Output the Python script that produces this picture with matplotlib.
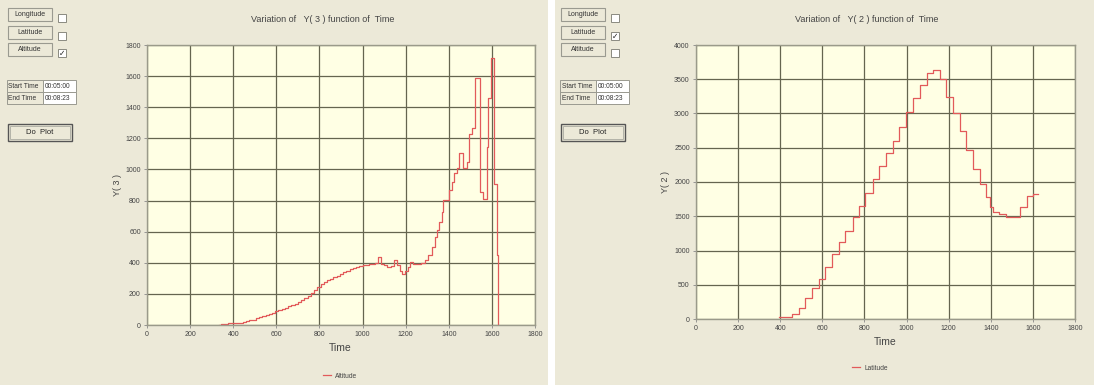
import matplotlib
matplotlib.use("Agg")
import matplotlib.pyplot as plt
from matplotlib.patches import Rectangle

plt.rcParams['font.family'] = ['Liberation Sans', 'DejaVu Sans']

# Altitude (Y(3)) vs Time - step data
alt_time = [334, 345, 360, 375, 390, 410, 430, 445, 460, 475, 490, 505, 520, 535,
            550, 565, 580, 595, 610, 625, 640, 655, 670, 685, 700, 715, 730, 745,
            760, 775, 790, 805, 820, 835, 850, 865, 880, 895, 910, 925, 940, 955,
            970, 985, 1000, 1015, 1030, 1045, 1060, 1072, 1085, 1100, 1115, 1130,
            1145, 1162, 1172, 1185, 1195, 1210, 1222, 1235, 1250, 1270, 1290, 1305,
            1320, 1335, 1345, 1356, 1367, 1375, 1402, 1413, 1424, 1440, 1449, 1465,
            1483, 1496, 1506, 1522, 1545, 1560, 1579, 1584, 1595, 1612, 1623, 1628]
alt_vals = [0, 5, 8, 12, 14, 15, 16, 20, 25, 30, 35, 42, 50, 58,
            65, 72, 80, 88, 96, 104, 112, 120, 128, 138, 148, 160, 172, 188,
            205, 225, 245, 262, 275, 288, 298, 308, 318, 328, 340, 350, 360, 368,
            375, 380, 385, 388, 392, 395, 398, 435, 395, 385, 375, 380,
            420, 385, 350, 330, 345, 375, 405, 390, 395, 400, 418, 450,
            503, 568, 610, 664, 729, 804, 868, 921, 975, 1007, 1108, 1007,
            1050, 1226, 1264, 1586, 857, 808, 1146, 1457, 1714, 906, 450, 0]

# Latitude (Y(2)) vs Time - step data
lat_time = [394, 457, 488, 520, 551, 583, 614, 646, 677, 709, 745, 776, 803, 839,
            871, 902, 934, 965, 997, 1032, 1063, 1095, 1126, 1158, 1189, 1221,
            1252, 1284, 1315, 1347, 1378, 1394, 1410, 1441, 1473, 1540, 1570,
            1600, 1625]
lat_vals = [25, 73, 161, 307, 449, 586, 756, 952, 1122, 1283, 1488, 1649, 1845, 2040,
            2230, 2430, 2601, 2796, 3016, 3221, 3416, 3587, 3636, 3500, 3245, 3011,
            2747, 2474, 2196, 1967, 1781, 1635, 1562, 1527, 1488, 1635, 1791,
            1830, 1830]

x_ticks = list(range(0, 1801, 200))
alt_ticks = list(range(0, 1801, 200))
lat_ticks = list(range(0, 4001, 500))

W, H = 1094, 385
BG = '#ece9d8'
PLOT_BG = '#ffffe4'
GRID = '#65654f'
LINE = '#e25a5a'
TXT = '#444444'

fig = plt.figure(figsize=(W / 100, H / 100), dpi=100, facecolor=BG)


def px_rect(x, y, w, h, **kw):
    # rectangle given in image pixels, origin top-left
    r = Rectangle((x / W, 1 - (y + h) / H), w / W, h / H,
                  transform=fig.transFigure, **kw)
    fig.patches.append(r)
    return r


def px_text(x, y, s, **kw):
    fig.text(x / W, 1 - y / H, s, **kw)


# white strip between the two panels
px_rect(548, 0, 7, H, facecolor='white', edgecolor='none', zorder=0)


def controls(x0, checked):
    names = ['Longitude', 'Latitude', 'Altitude']
    ys = [8, 26, 43]
    for name, y in zip(names, ys):
        px_rect(x0, y, 44, 13, facecolor=BG, edgecolor='#9a9a90', lw=0.8, zorder=1)
        px_text(x0 + 22, y + 6.5, name, fontsize=5, color='#333333',
                ha='center', va='center')
        px_rect(x0 + 50, y + 6, 8, 8, facecolor='white', edgecolor='#8a8a80',
                lw=0.7, zorder=1)
        if name == checked:
            px_text(x0 + 54, y + 10, '\u2713', fontsize=5.5, color='#222222',
                    ha='center', va='center', family=['DejaVu Sans'])
    for i, (lab, val) in enumerate([('Start Time', '00:05:00'),
                                     ('End Time', '00:08:23')]):
        y = 80 + i * 12
        px_rect(x0 - 1, y, 36, 12, facecolor=BG, edgecolor='#9a9a90', lw=0.7, zorder=1)
        px_text(x0 + 0.5, y + 6, lab, fontsize=4.8, color='#333333', va='center')
        px_rect(x0 + 35, y, 33, 12, facecolor='white', edgecolor='#9a9a90',
                lw=0.7, zorder=1)
        px_text(x0 + 36.5, y + 6, val, fontsize=4.8, color='#333333', va='center')
    px_rect(x0, 124, 64, 17, facecolor=BG, edgecolor='#555555', lw=1.0, zorder=1)
    px_rect(x0 + 2, 126, 60, 13, facecolor='none', edgecolor='#aaaaa0', lw=0.6, zorder=2)
    px_text(x0 + 32, 132.5, 'Do  Plot', fontsize=5.5, color='#222222',
            ha='center', va='center')


controls(8, 'Altitude')
controls(561, 'Latitude')


def style_axes(ax, yticks):
    ax.set_facecolor(PLOT_BG)
    ax.set_xlim(0, 1800)
    ax.set_ylim(yticks[0], yticks[-1])
    ax.set_xticks(x_ticks)
    ax.set_yticks(yticks)
    ax.grid(True, color=GRID, lw=0.9)
    ax.set_axisbelow(True)
    for s in ax.spines.values():
        s.set_color('#9a9a8a')
        s.set_linewidth(1.0)
    ax.tick_params(labelsize=5, colors='#888888', labelcolor=TXT, length=2.5,
                   width=0.6, pad=2)


# left chart: Altitude
ax1 = fig.add_axes([147 / W, 60 / H, 388 / W, 280 / H])
ax1.plot(alt_time, alt_vals, drawstyle='steps-post', color=LINE, lw=0.9,
         label='Altitude')
style_axes(ax1, alt_ticks)
px_text(323, 20, 'Variation of   Y( 3 ) function of  Time', fontsize=6.5,
        color=TXT, ha='center', va='center')
px_text(340, 348, 'Time', fontsize=7.5, color=TXT, ha='center', va='center')
px_text(117, 185, 'Y( 3 )', fontsize=6.5, color=TXT, ha='center', va='center',
        rotation=90)
ax1.legend(loc='center', bbox_to_anchor=(340 / W, 1 - 376 / H),
           bbox_transform=fig.transFigure, frameon=False, fontsize=4.8,
           handlelength=1.2, handletextpad=0.6, labelcolor=TXT)

# right chart: Latitude
ax2 = fig.add_axes([696 / W, 66 / H, 379 / W, 274 / H])
ax2.plot(lat_time, lat_vals, drawstyle='steps-post', color=LINE, lw=0.9,
         label='Latitude')
style_axes(ax2, lat_ticks)
px_text(867, 20, 'Variation of   Y( 2 ) function of  Time', fontsize=6.5,
        color=TXT, ha='center', va='center')
px_text(885, 342, 'Time', fontsize=7.5, color=TXT, ha='center', va='center')
px_text(665, 182, 'Y( 2 )', fontsize=6.5, color=TXT, ha='center', va='center',
        rotation=90)
ax2.legend(loc='center', bbox_to_anchor=(870 / W, 1 - 368 / H),
           bbox_transform=fig.transFigure, frameon=False, fontsize=4.8,
           handlelength=1.2, handletextpad=0.6, labelcolor=TXT)

fig.savefig('out.png', dpi=100, facecolor=fig.get_facecolor())
